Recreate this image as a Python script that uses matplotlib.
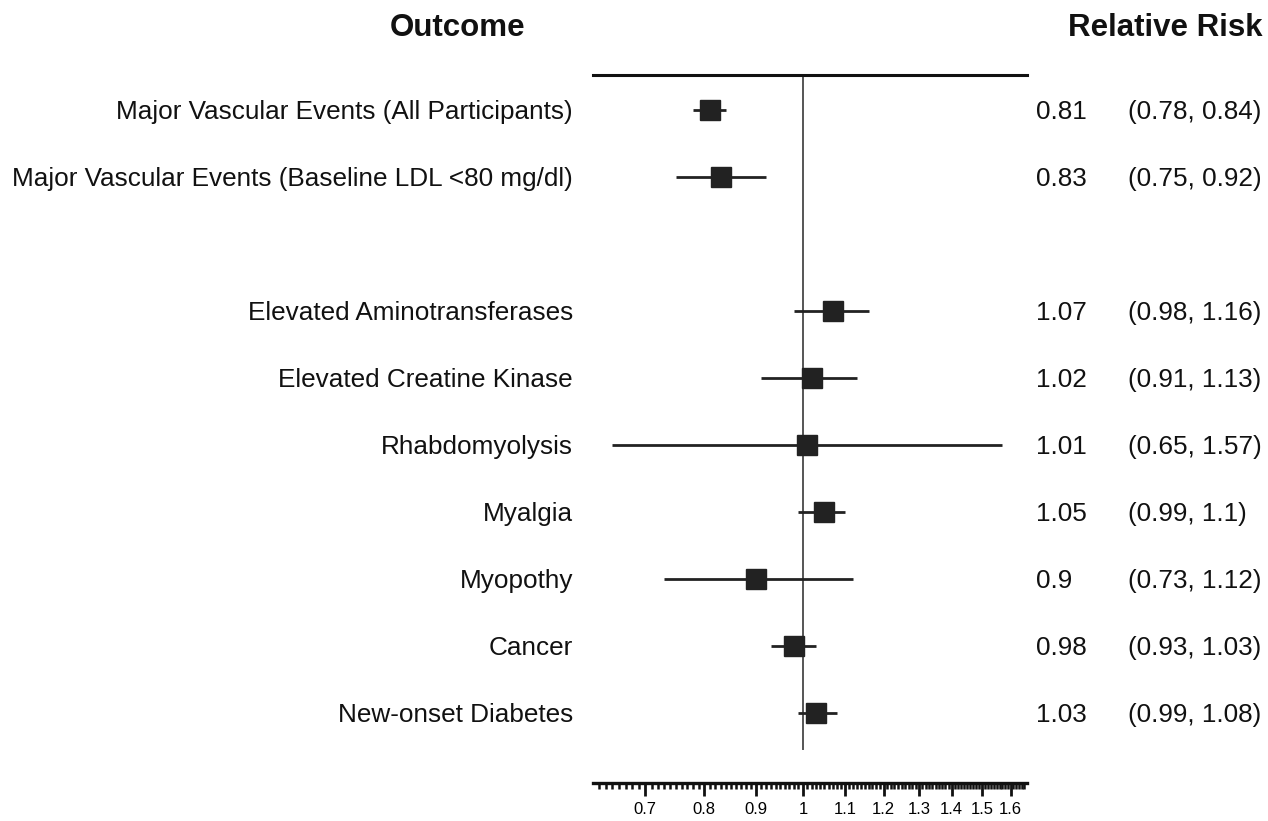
import numpy as np
import matplotlib
matplotlib.use('Agg')
import matplotlib.pyplot as plt
from matplotlib.transforms import blended_transform_factory, offset_copy
from matplotlib.ticker import FixedLocator, NullFormatter

plt.rcParams['font.family'] = ['Liberation Sans', 'DejaVu Sans']

# data (row index 2 is an empty spacer row)
outcomes = ['Major Vascular Events (All Participants)',
            'Major Vascular Events (Baseline LDL <80 mg/dl)',
            'Elevated Aminotransferases',
            'Elevated Creatine Kinase',
            'Rhabdomyolysis',
            'Myalgia',
            'Myopothy',
            'Cancer',
            'New-onset Diabetes']
rows = [0, 1, 3, 4, 5, 6, 7, 8, 9]
rr = [0.81, 0.83, 1.07, 1.02, 1.01, 1.05, 0.9, 0.98, 1.03]
lo = [0.78, 0.75, 0.98, 0.91, 0.65, 0.99, 0.73, 0.93, 0.99]
hi = [0.84, 0.92, 1.16, 1.13, 1.57, 1.1, 1.12, 1.03, 1.08]
rr_text = ['0.81', '0.83', '1.07', '1.02', '1.01', '1.05', '0.9', '0.98', '1.03']
ci_text = ['(0.78, 0.84)', '(0.75, 0.92)', '(0.98, 1.16)', '(0.91, 1.13)',
           '(0.65, 1.57)', '(0.99, 1.1)', '(0.73, 1.12)', '(0.93, 1.03)',
           '(0.99, 1.08)']
major_ticks = [0.7, 0.8, 0.9, 1.0, 1.1, 1.2, 1.3, 1.4, 1.5, 1.6]
major_labels = ['0.7', '0.8', '0.9', '1', '1.1', '1.2', '1.3', '1.4', '1.5', '1.6']

W, H = 1268, 821
fig = plt.figure(figsize=(W / 100, H / 100), dpi=100)
ax = fig.add_axes([593 / W, 1 - 783 / H, 434 / W, (783 - 75) / H])

dark = '#222222'
ax.set_xscale('log')
ax.set_xlim(0.622, 1.66)
ax.set_ylim(10.04, -0.52)

# reference line at 1
ax.plot([1, 1], [-0.52, 9.54], color='#555555', lw=1.4, zorder=1)

for y, r, l, h in zip(rows, rr, lo, hi):
    ax.plot([l, h], [y, y], color=dark, lw=2, zorder=2, solid_capstyle='butt')
    ax.plot(r, y, marker='s', ms=14, color=dark, mec=dark, zorder=3)

for s in ['left', 'right']:
    ax.spines[s].set_visible(False)
ax.spines['top'].set_linewidth(2.2)
ax.spines['bottom'].set_linewidth(2.4)
ax.spines['top'].set_color('#111111')
ax.spines['bottom'].set_color('#111111')
ax.set_yticks([])

ax.xaxis.set_major_locator(FixedLocator(major_ticks))
ax.set_xticklabels(major_labels)
ax.xaxis.set_minor_locator(FixedLocator(np.arange(0.63, 1.66, 0.01)))
ax.xaxis.set_minor_formatter(NullFormatter())
ax.tick_params(axis='x', which='major', length=9, width=2, labelsize=12,
               pad=5, color='#111111')
ax.tick_params(axis='x', which='minor', length=4.5, width=1.8, color='#111111')

tr = blended_transform_factory(fig.transFigure, ax.transData)
tr = offset_copy(tr, fig=fig, x=0, y=-2, units='dots')
for y, name, a, b in zip(rows, outcomes, rr_text, ci_text):
    ax.text(573 / W, y, name, transform=tr, ha='right', va='center',
            fontsize=18.8, color='#111111')
    ax.text(1036 / W, y, a, transform=tr, ha='left', va='center',
            fontsize=18.8, color='#111111')
    ax.text(1128 / W, y, b, transform=tr, ha='left', va='center',
            fontsize=18.8, color='#111111')

fig.text(458 / W, 1 - 28 / H, 'Outcome', ha='center', va='center',
         fontsize=22.5, fontweight='bold', color='#111111')
fig.text(1262 / W, 1 - 28 / H, 'Relative Risk', ha='right', va='center',
         fontsize=22.5, fontweight='bold', color='#111111')

fig.savefig('out.png', dpi=100)
